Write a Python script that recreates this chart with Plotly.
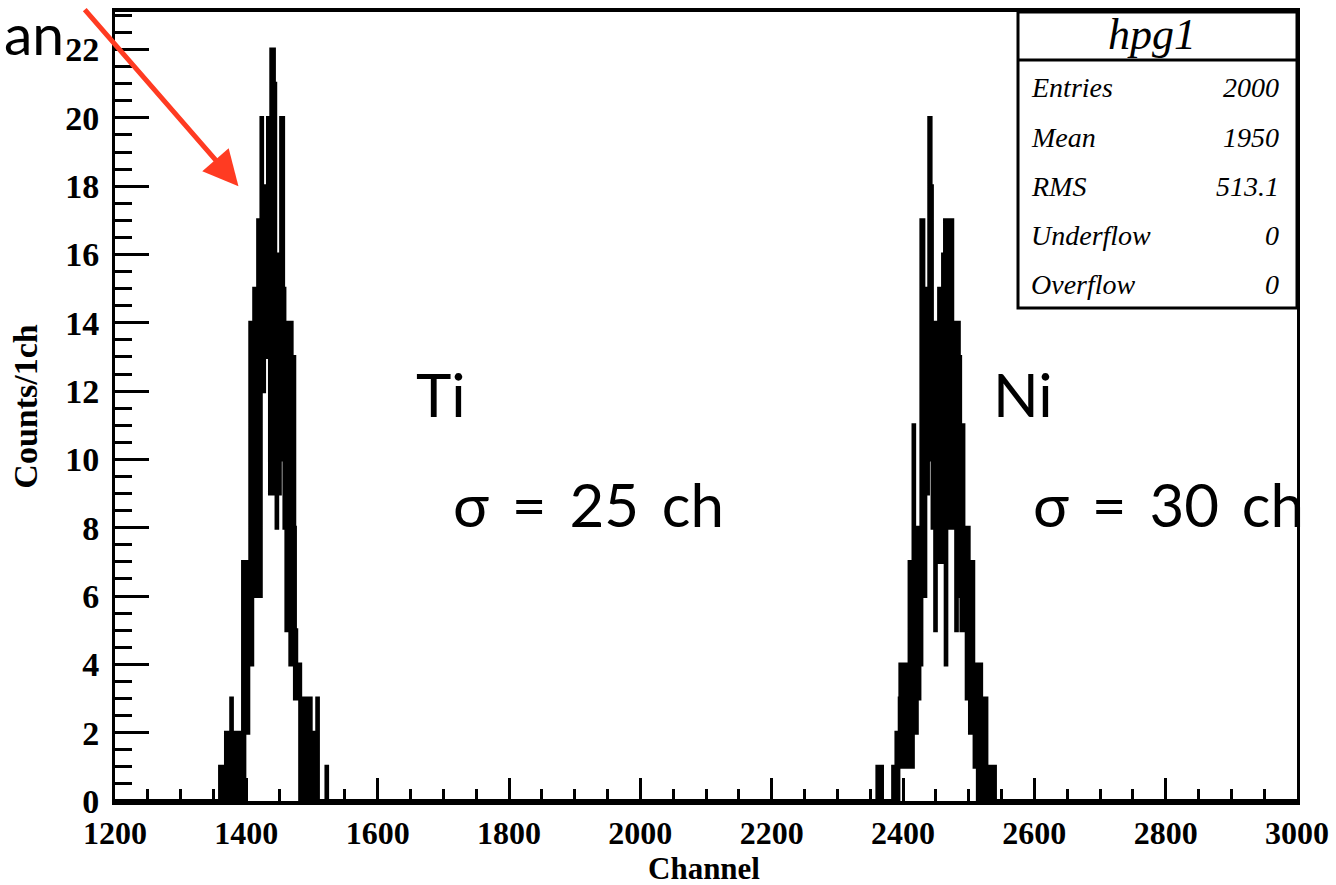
import numpy as np
import plotly.graph_objects as go

# ---------------- data ----------------
x_min, x_max = 1200, 3000          # histogram range, 1 channel per bin

ti_first_channel = 1356
ti_counts = [
    0, 0, 0, 0,
    1, 0, 1, 0, 1, 1, 0, 1, 0, 2,
    0, 1, 2, 0, 2, 1, 0, 3, 1, 2,
    0, 2, 1, 0, 2, 1, 0, 2, 1, 0,
    2, 2, 0, 1, 2, 7, 0, 3, 7, 2,
    5, 7, 2, 6, 4, 7, 14, 8, 4, 11,
    14, 6, 15, 9, 6, 13, 15, 10, 17, 12,
    8, 6, 17, 20, 14, 16, 12, 18, 13, 17,
    13, 17, 14, 20, 16, 20, 9, 16, 22, 15,
    19, 22, 9, 21, 12, 16, 8, 14, 11, 16,
    9, 15, 12, 20, 13, 20, 10, 15, 8, 14,
    11, 5, 13, 9, 14, 6, 12, 4, 14, 9,
    13, 5, 13, 8, 3, 5, 3, 4, 4, 3,
    3, 4, 0, 3, 1, 2, 0, 3, 1, 0,
    2, 3, 0, 1, 3, 0, 2, 3, 0, 2,
    1, 0, 2, 0, 1, 2, 0, 0, 3, 0,
    0, 0, 0, 0, 0, 0, 0, 0, 0, 0,
    0, 0, 1, 0,
]

ni_first_channel = 2358
ni_counts = [
    0, 0, 0, 1, 0, 0, 1, 0, 0, 1, 0, 0,
    0, 0, 0, 0, 0, 0, 0, 0, 0, 0,
    0, 0, 0, 0, 0, 1, 0, 1, 1, 0,
    2, 1, 0, 2, 1, 3, 4, 1, 3, 4,
    2, 4, 1, 3, 4, 2, 4, 1, 3, 4,
    7, 2, 5, 7, 1, 6, 11, 3, 8, 5,
    2, 7, 4, 8, 3, 6, 5, 4, 17, 9,
    17, 11, 13, 6, 15, 10, 14, 9, 15, 11,
    20, 20, 12, 18, 10, 8, 14, 11, 13, 5,
    13, 14, 14, 7, 12, 15, 9, 13, 7, 15,
    11, 16, 8, 14, 17, 4, 12, 17, 10, 15,
    8, 17, 12, 9, 17, 11, 14, 8, 13, 10,
    14, 5, 12, 9, 14, 6, 13, 9, 11, 5,
    10, 11, 6, 8, 5, 7, 8, 3, 6, 8,
    4, 7, 2, 5, 7, 3, 7, 2, 4, 1,
    3, 4, 1, 2, 0, 4, 1, 3, 4, 0,
    2, 3, 0, 1, 3, 0, 3, 1, 0, 1,
    0, 1, 0, 0, 1, 0, 1, 0, 0, 1, 0,
]

x_ticks = [1200, 1400, 1600, 1800, 2000, 2200, 2400, 2600, 2800, 3000]
y_ticks = [0, 2, 4, 6, 8, 10, 12, 14, 16, 18, 20, 22]

hist_name = "hpg1"
stats_labels = ["Entries", "Mean", "RMS", "Underflow", "Overflow"]
stats_values = ["2000", "1950", "513.1", "0", "0"]

peak_names = ["Ti", "Ni"]
peak_name_pos = [(1656, 11.93), (2534, 11.93)]
sigma_texts = ["σ\u2009 =\u2009 25\u2009 ch", "σ\u2009 =\u2009 30\u2009 ch"]
sigma_pos = [(1712, 8.71), (2595, 8.71)]

# ---------------- histogram arrays ----------------
edges = np.arange(x_min, x_max + 1)
counts = np.zeros(len(edges))
i0 = ti_first_channel - x_min
counts[i0:i0 + len(ti_counts)] = ti_counts
i1 = ni_first_channel - x_min
counts[i1:i1 + len(ni_counts)] = ni_counts
counts[-1] = counts[-2]

fig = go.Figure()
fig.add_trace(go.Scatter(
    x=edges, y=counts, mode="lines",
    line=dict(color="black", width=4, shape="hv", simplify=False),
    hoverinfo="skip", showlegend=False,
))

axis_font = dict(family="Liberation Serif", size=34, color="black", weight="bold")
xtick_font = dict(family="Liberation Serif", size=32, color="black", weight="bold")

fig.update_xaxes(
    range=[x_min, x_max], tickmode="array", tickvals=x_ticks,
    ticktext=[str(v) for v in x_ticks],
    ticks="inside", ticklen=23, tickwidth=3, tickcolor="black",
    minor=dict(dtick=50, tick0=1200, ticks="inside", ticklen=12,
               tickwidth=3, tickcolor="black"),
    showline=True, linewidth=4, linecolor="black", mirror=True,
    showgrid=False, zeroline=False, automargin=False,
    tickfont=xtick_font, ticklabelstandoff=1,
)
fig.update_yaxes(
    range=[0, 23.1], tickmode="array", tickvals=y_ticks,
    ticktext=[str(v) for v in y_ticks],
    ticks="inside", ticklen=34, tickwidth=3, tickcolor="black",
    minor=dict(dtick=0.5, tick0=0, ticks="inside", ticklen=17,
               tickwidth=3, tickcolor="black"),
    showline=True, linewidth=3, linecolor="black", mirror=True,
    showgrid=False, zeroline=False, automargin=False,
    tickfont=axis_font, ticklabelstandoff=6,
    title=dict(text="Counts/1ch", font=axis_font, standoff=18),
)

# ---------------- stats box ----------------
def px_x(px):
    return (px - 115) / 1182.0

def px_y(py):
    return (801 - py) / 789.0

shapes = [
    dict(type="rect", xref="paper", yref="paper",
         x0=px_x(1018), x1=px_x(1297), y0=px_y(308), y1=px_y(12),
         line=dict(color="black", width=3), fillcolor="white", layer="above"),
    dict(type="line", xref="paper", yref="paper",
         x0=px_x(1018), x1=px_x(1297), y0=px_y(60), y1=px_y(60),
         line=dict(color="black", width=3), layer="above"),
]

annotations = []
# x axis title
annotations.append(dict(text="Channel", xref="paper", yref="paper",
                        x=px_x(704), y=px_y(868), xanchor="center",
                        yanchor="middle", showarrow=False,
                        font=dict(family="Liberation Serif", size=31,
                                  color="black", weight="bold")))

stat_font = dict(family="Liberation Serif", size=28, color="black", style="italic")
annotations.append(dict(
    text=hist_name, xref="paper", yref="paper", x=px_x(1152), y=px_y(35),
    xanchor="center", yanchor="middle", showarrow=False,
    font=dict(family="Liberation Serif", size=44, color="black", style="italic"),
))
row_y = [88, 137, 186, 235, 284]
for lab, val, ry in zip(stats_labels, stats_values, row_y):
    annotations.append(dict(text=lab, xref="paper", yref="paper",
                            x=px_x(1029), y=px_y(ry), xanchor="left",
                            yanchor="middle", showarrow=False, font=stat_font))
    annotations.append(dict(text=val, xref="paper", yref="paper",
                            x=px_x(1281), y=px_y(ry), xanchor="right",
                            yanchor="middle", showarrow=False, font=stat_font))

big_font = dict(family="Lato", size=60, color="black")
for name, (px, py) in zip(peak_names, peak_name_pos):
    annotations.append(dict(text=name, x=px, y=py, xref="x", yref="y",
                            xanchor="left", yanchor="middle", showarrow=False,
                            font=big_font))
for txt, (px, py) in zip(sigma_texts, sigma_pos):
    annotations.append(dict(text=txt, x=px, y=py, xref="x", yref="y",
                            xanchor="left", yanchor="middle", showarrow=False,
                            font=big_font))

# slide text at top-left
annotations.append(dict(text="an", xref="paper", yref="paper",
                        x=px_x(66), y=px_y(33), xanchor="right",
                        yanchor="middle", showarrow=False,
                        font=dict(family="Lato", size=57, color="black")))

# red arrow pointing at the Ti peak
annotations.append(dict(
    text="", x=1388, y=18.0, xref="x", yref="y",
    ax=-155, ay=-178, axref="pixel", ayref="pixel",
    showarrow=True, arrowhead=2, arrowsize=1.4, arrowwidth=5,
    arrowcolor="rgb(255,59,34)",
))

fig.update_layout(
    width=1336, height=885,
    margin=dict(l=115, r=39, t=12, b=84, autoexpand=False),
    plot_bgcolor="white", paper_bgcolor="white",
    shapes=shapes, annotations=annotations,
    showlegend=False,
)

fig.write_html("out.html", config={"displayModeBar": False},
               post_script="document.body.style.margin='0';document.body.style.padding='0';")
